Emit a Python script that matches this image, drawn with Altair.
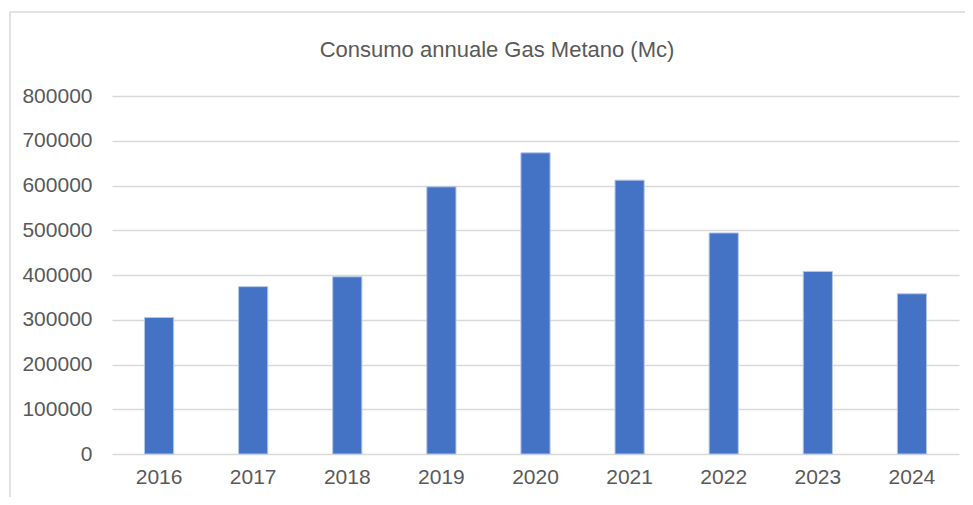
import altair as alt
import pandas as pd

years = ["2016", "2017", "2018", "2019", "2020", "2021", "2022", "2023", "2024"]
consumo = [305000, 374000, 396000, 597000, 673000, 612000, 494000, 408000, 358000]
y_ticks = [0, 100000, 200000, 300000, 400000, 500000, 600000, 700000, 800000]
title_text = "Consumo annuale Gas Metano (Mc)"

df = pd.DataFrame({"anno": years, "consumo": consumo})

FONT = "Liberation Sans Narrow, Liberation Sans, Arial, sans-serif"
TXT = "#595959"

bars = alt.Chart(df).mark_bar(
    color="#4472C4", stroke="#b4c7e7", strokeWidth=1
).encode(
    x=alt.X("anno:N", sort=years, title=None,
            scale=alt.Scale(paddingInner=0.69, paddingOuter=0.345),
            axis=alt.Axis(labelAngle=0, labelFontSize=21, labelColor=TXT,
                          labelFont=FONT, labelPadding=12, ticks=False,
                          domain=False, grid=False)),
    y=alt.Y("consumo:Q", title=None,
            scale=alt.Scale(domain=[0, 800000], nice=False),
            axis=alt.Axis(values=y_ticks, format="d", labelFontSize=21,
                          labelColor=TXT, labelFont=FONT, labelPadding=20,
                          ticks=False, domain=False, grid=True,
                          gridColor="#d9d9d9", gridWidth=1.5)),
)

frame = alt.Chart(pd.DataFrame({"k": [0]})).mark_rect(
    fillOpacity=0, stroke="#d9d9d9", strokeWidth=1.5
).encode(
    x=alt.value(-102), x2=alt.value(900),
    y=alt.value(-84), y2=alt.value(500),
)

title = alt.Chart(pd.DataFrame({"t": [title_text]})).mark_text(
    font=FONT, fontSize=22, color=TXT, align="center", baseline="middle"
).encode(
    text="t:N",
    x=alt.value(385), y=alt.value(-46),
)

chart = alt.layer(frame, bars, title).properties(
    width=847, height=358,
    padding={"left": 104, "top": 88, "right": 6, "bottom": 43},
    autosize=alt.AutoSizeParams(type="none"),
    background="white",
).configure_view(strokeWidth=0)

chart.save("out.html", embed_options={"renderer": "svg", "actions": False})
